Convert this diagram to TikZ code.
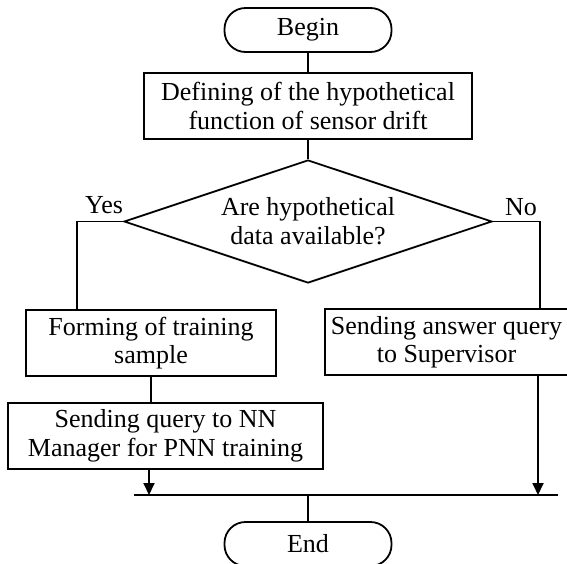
\documentclass[tikz,border=0pt]{standalone}
\usepackage{fontspec}
\setmainfont{Liberation Serif}
\usetikzlibrary{shapes.geometric,arrows.meta}

\tikzset{
  flow/.style={line width=1.8pt, draw=black},
  terminal/.style={flow, rectangle, rounded corners=21pt, minimum width=167pt,
    minimum height=44pt, inner sep=0pt, font=\fontsize{26}{28.5}\selectfont},
  process/.style={flow, rectangle, minimum height=66pt, inner sep=0pt,
    align=center, font=\fontsize{26}{28.5}\selectfont},
  decision/.style={flow, diamond, minimum width=368pt, minimum height=123pt,
    inner sep=0pt},
  tag/.style={inner sep=0pt, font=\fontsize{26}{28.5}\selectfont},
  link/.style={line width=1.8pt},
  arrowlink/.style={link, -{Triangle[length=12pt,width=11pt]}}
}

\begin{document}
\begin{tikzpicture}[x=1pt,y=-1pt]
  \useasboundingbox (0,0) rectangle (567,563);
  \clip (0,0) rectangle (567,563);

  % nodes
  \node[terminal] (begin) at (308,30) {Begin};
  \node[process, minimum width=328pt] (def) at (308,106)
    {Defining of the hypothetical\\function of sensor drift};
  \node[decision] (dia) at (308,221.5) {};
  \node[tag, align=center] (q) at (308,221)
    {Are hypothetical\\data available?};
  \node[process, minimum width=250pt] (form) at (151,343)
    {Forming of training\\sample};
  \node[process, minimum width=315pt] (sq) at (165.5,436)
    {Sending query to NN\\Manager for PNN training};
  \node[process, minimum width=243pt] (ans) at (446.5,342)
    {Sending answer query\\to Supervisor};
  \node[terminal] (end) at (308,544) {End};

  % branch labels
  \node[tag, anchor=base west] (yes) at (85,213) {Yes};
  \node[tag, anchor=base west] (no) at (505,215) {No};

  % bends and junction points
  \coordinate (ycorner) at (77,221.5);
  \coordinate (ncorner) at (540,221.5);
  \coordinate (ml) at (134,495);
  \coordinate (mr) at (558,495);
  \coordinate (j1) at (149,495);
  \coordinate (j2) at (538,495);
  \coordinate (jm) at (308,495);

  % connectors
  \draw[link] (begin.south) -- (def.north);
  \draw[link] (def.south) -- (dia.north);
  \draw[link] (dia.west) -- (ycorner) -- (ycorner |- form.north);
  \draw[link] (dia.east) -- (ncorner) -- (ncorner |- ans.north);
  \draw[link] (form.south) -- (form.south |- sq.north);
  \draw[arrowlink] (j1 |- sq.south) -- (j1);
  \draw[arrowlink] (j2 |- ans.south) -- (j2);
  \draw[link] (ml) -- (mr);
  \draw[link] (jm) -- (end.north);
\end{tikzpicture}
\end{document}
